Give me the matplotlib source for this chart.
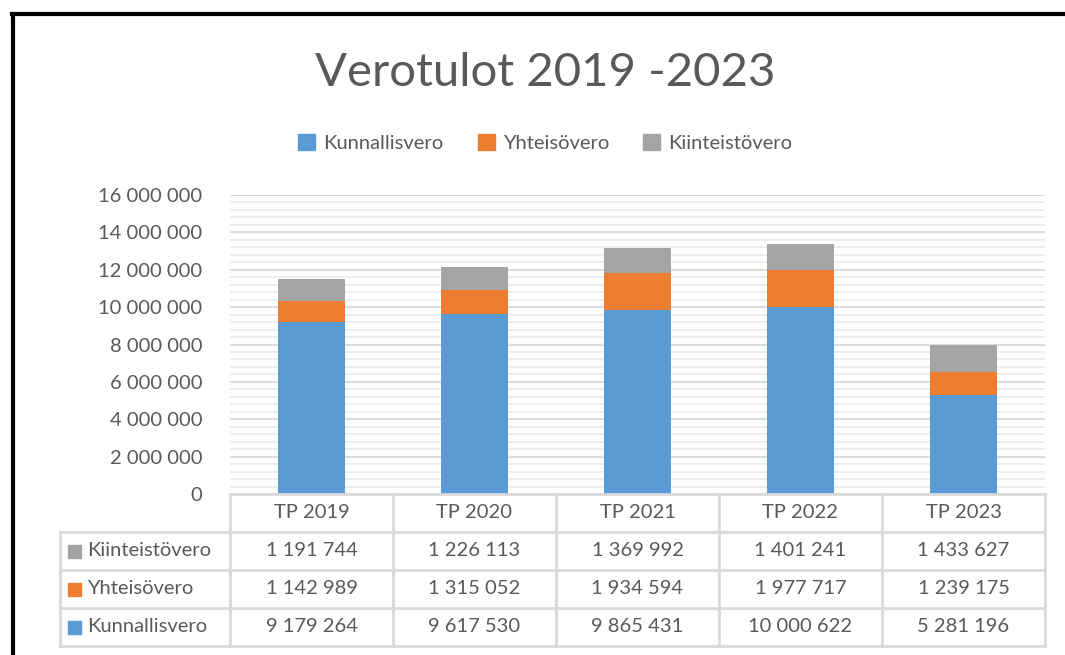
import matplotlib
matplotlib.use("Agg")
import matplotlib.pyplot as plt
import numpy as np
from matplotlib.lines import Line2D
from matplotlib.patches import Rectangle
from matplotlib.ticker import MultipleLocator, FuncFormatter

plt.rcParams['font.family'] = ['Lato', 'DejaVu Sans']

years = ["TP 2019", "TP 2020", "TP 2021", "TP 2022", "TP 2023"]
kunnallisvero = [9179264, 9617530, 9865431, 10000622, 5281196]
yhteisovero = [1142989, 1315052, 1934594, 1977717, 1239175]
kiinteistovero = [1191744, 1226113, 1369992, 1401241, 1433627]

series = [("Kunnallisvero", kunnallisvero, "#5B9BD5"),
          ("Yhteisövero", yhteisovero, "#ED7D31"),
          ("Kiinteistövero", kiinteistovero, "#A5A5A5")]

W, H = 1065, 655
txt = "#595959"
grid_major = "#D9D9D9"
grid_minor = "#EDEDED"
fs = 14.5

def fx(px):
    return px / W

def fy(py):
    return 1 - py / H

fig = plt.figure(figsize=(W / 100, H / 100), dpi=100)
ax = fig.add_axes([fx(230), fy(494), fx(1045) - fx(230), fy(195) - fy(494)])

x = np.arange(len(years))
bottom = np.zeros(len(years))
for name, vals, col in series:
    ax.bar(x, vals, width=0.41, bottom=bottom, color=col, zorder=3, label=name)
    bottom += np.array(vals)

ax.set_xlim(-0.5, len(years) - 0.5)
ax.set_ylim(0, 16000000)
ax.yaxis.set_major_locator(MultipleLocator(2000000))
ax.yaxis.set_minor_locator(MultipleLocator(400000))
ax.yaxis.set_major_formatter(FuncFormatter(lambda v, p: f"{int(v):,}".replace(",", " ")))
ax.grid(axis='y', which='major', color=grid_major, lw=1.3, zorder=0)
ax.grid(axis='y', which='minor', color=grid_minor, lw=1.3, zorder=0)
ax.tick_params(axis='y', which='both', length=0, labelsize=fs, labelcolor=txt, pad=20)
ax.set_xticks([])
for s in ax.spines.values():
    s.set_visible(False)

# data table below the axes
row_h = 38 / 299
tr = ax.get_xaxis_transform()
lc = dict(color=grid_major, lw=2, clip_on=False, zorder=4)
ax.plot([-0.5, len(years) - 0.5], [0, 0], transform=tr, **lc)
for k in range(1, 5):
    ax.plot([-0.5, len(years) - 0.5], [-k * row_h, -k * row_h], transform=tr, **lc)
for b in np.arange(len(years) + 1) - 0.5:
    ax.plot([b, b], [0, -4 * row_h], transform=tr, **lc)
left = -170 / 815
ta = ax.transAxes
for k in range(1, 5):
    ax.plot([left, 0], [-k * row_h, -k * row_h], transform=ta, **lc)
ax.plot([left, left], [-row_h, -4 * row_h], transform=ta, **lc)

for i, yr in enumerate(years):
    ax.text(i, -0.5 * row_h, yr, transform=tr, ha='center', va='center',
            fontsize=fs, color=txt)

for r, (name, vals, col) in enumerate(reversed(series)):
    yc = -(r + 1.5) * row_h
    ax.add_patch(Rectangle((left + 8 / 815, yc - 6.5 / 299), 13 / 815, 13 / 299,
                           transform=ta, color=col, clip_on=False))
    ax.text(left + 27 / 815, yc, name, transform=ta, ha='left', va='center',
            fontsize=fs, color=txt)
    for i, v in enumerate(vals):
        ax.text(i, yc, f"{v:,}".replace(",", " "), transform=tr, ha='center',
                va='center', fontsize=fs, color=txt)

# title and legend
fig.text(0.512, fy(73), "Verotulot 2019 -2023", ha='center', va='center',
         fontsize=34, color=txt)
handles = [Rectangle((0, 0), 1, 1, color=c) for _, _, c in series]
fig.legend(handles, [n for n, _, _ in series], loc='center', bbox_to_anchor=(0.512, fy(143)),
           ncol=3, frameon=False, fontsize=fs, labelcolor=txt, handlelength=0.85,
           handleheight=0.85, handletextpad=0.4, columnspacing=1.7)

# black frame on top and left edges
fig.add_artist(Line2D([fx(12), 1], [fy(14), fy(14)], color='black', lw=3))
fig.add_artist(Line2D([fx(13), fx(13)], [fy(14), 0], color='black', lw=3))

fig.savefig("out.png", dpi=100)
